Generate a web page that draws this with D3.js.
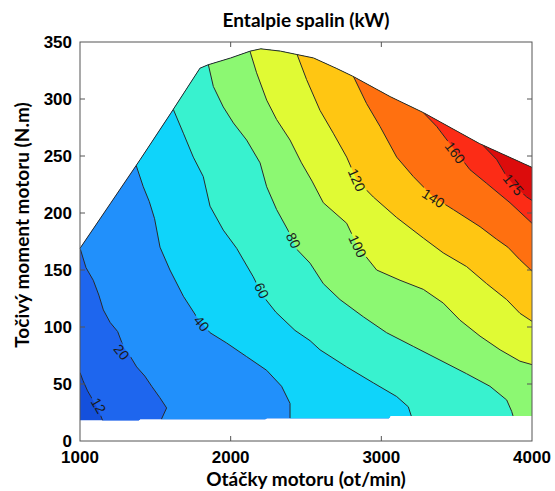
<!DOCTYPE html>
<html>
<head>
<meta charset="utf-8">
<script src="https://cdn.jsdelivr.net/npm/d3@7"></script>
<style>
  body { margin: 0; background: #fff; }
</style>
</head>
<body>
<script>
// contour levels (kW) and fill colours of the bands between them
var levels = [12, 20, 40, 60, 80, 100, 120, 140, 160, 175];
var bandColors = ['#1450dc', '#1e66ee', '#2190fb', '#0fd4fa', '#38f2cf', '#8cf872',
                  '#e0fa34', '#ffc612', '#ff7010', '#fc2c16', '#dc0c0c'];

// full load curve (rpm, N.m) and bottom edge of the measured map
var fullLoad = [[1000,169],[1200,208],[1400,247],[1600,287],[1796,327],[1850,330],[2000,336],
                [2130,342],[2200,344],[2330,342],[2440,339],[2550,336],[2700,327],[2810,320],
                [3060,302],[3280,288],[3650,261],[4000,240]];
var bottomEdge = [[4000,22],[3060,22],[3050,20],[2240,20],[2230,19],[1400,19],[1390,18],[1000,18]];

// contour lines (rpm, N.m)
var line12 = [[1000,60],[1020,53],[1050,44],[1085,36],[1120,28],[1150,18]];
var line20 = [[1003,168],[1040,152],[1088,141],[1125,128],[1155,115],[1200,104],[1250,96],[1290,82],
              [1321,77],[1376,65],[1430,57],[1476,48],[1530,38],[1575,29],[1540,19]];
var line40 = [[1372,242],[1420,223],[1460,210],[1495,195],[1531,170],[1597,150],[1686,127],[1774,109],
              [1863,95],[1973,86],[2106,74],[2239,62],[2338,48],[2394,33],[2394,20]];
var line60 = [[1619,291],[1686,270],[1752,249],[1818,232],[1863,206],[1951,185],[2040,169],[2150,144],
              [2210,128],[2300,113],[2427,97],[2527,88],[2593,80],[2770,65],[2947,51],[3102,39],
              [3179,30],[3201,21]];
var line80 = [[1852,330],[1885,311],[1951,293],[2018,279],[2106,264],[2195,244],[2239,223],[2305,203],
              [2380,185],[2440,168],[2527,156],[2615,138],[2726,124],[2880,109],[3035,95],[3212,83],
              [3389,71],[3566,59],[3721,48],[3832,36],[3865,26],[3874,22]];
var line100 = [[2128,342],[2172,323],[2239,299],[2305,282],[2394,264],[2470,244],[2540,228],[2615,209],
               [2770,191],[2842,171],[2969,150],[3124,141],[3279,133],[3411,121],[3522,106],[3655,92],
               [3788,80],[3920,70],[4000,67]];
var line120 = [[2438,340],[2504,317],[2593,290],[2681,270],[2770,249],[2836,229],[2947,214],[3102,196],
               [3279,178],[3411,165],[3566,153],[3699,138],[3832,124],[3920,112],[4000,105]];
var line140 = [[2814,320],[2902,296],[2991,276],[3102,249],[3212,232],[3345,214],[3478,203],[3655,188],
               [3765,177],[3840,170],[3920,159],[4000,149]];
var line160 = [[3279,288],[3367,276],[3430,265],[3489,255],[3588,238],[3699,226],[3854,209],[4000,191]];
var line175 = [[3677,259],[3765,247],[3832,232],[3876,225],[3965,214],[4000,211]];
var contourLines = [line12, line20, line40, line60, line80, line100, line120, line140, line160, line175];

// where the level labels sit (rpm, N.m)
var labelPos = [[1122,31],[1276,78],[1807,103],[2206,132],[2416,176],[2842,171],[2836,229],
                [3345,213],[3489,253],[3876,225]];

var xTicks = [1000, 2000, 3000, 4000];
var yTicks = [0, 50, 100, 150, 200, 250, 300, 350];

var width = 555, height = 491,
    plotL = 80, plotR = 532, plotT = 42, plotB = 441;

var x = d3.scaleLinear().domain([1000, 4000]).range([plotL, plotR]);
var y = d3.scaleLinear().domain([0, 350]).range([plotB, plotT]);
var line = d3.line().x(function(d){ return x(d[0]); }).y(function(d){ return y(d[1]); });

var svg = d3.select('body').append('svg')
    .attr('width', width)
    .attr('height', height);

var envelope = fullLoad.concat(bottomEdge);
var defs = svg.append('defs');
defs.append('clipPath').attr('id', 'env')
  .append('path').attr('d', line(envelope) + 'Z');

// filled bands: lowest colour everywhere, then each level on top of it
var bands = svg.append('g').attr('clip-path', 'url(#env)');
bands.append('path').attr('d', line(envelope) + 'Z').attr('fill', bandColors[0]);

contourLines.forEach(function(pts, i) {
  var s = pts[0], e = pts[pts.length - 1];
  var poly = [[s[0], 1000]].concat(pts);
  if (e[0] >= 3990) poly.push([9999, e[1]]);
  else poly.push([e[0], -100], [9999, -100]);
  poly.push([9999, 1000]);
  bands.append('path')
    .attr('d', line(poly) + 'Z')
    .attr('fill', bandColors[i + 1]);
});

// label angle follows the nearest segment of its line
function labelAngle(pts, p) {
  var best = Infinity, ang = 0;
  for (var i = 0; i < pts.length - 1; i++) {
    var ax = x(pts[i][0]), ay = y(pts[i][1]), bx = x(pts[i+1][0]), by = y(pts[i+1][1]);
    var dx = bx - ax, dy = by - ay;
    var t = ((p[0] - ax) * dx + (p[1] - ay) * dy) / (dx * dx + dy * dy);
    t = Math.max(0, Math.min(1, t));
    var d = Math.hypot(p[0] - (ax + t * dx), p[1] - (ay + t * dy));
    if (d < best) { best = d; ang = Math.atan2(dy, dx) * 180 / Math.PI; }
  }
  if (ang > 90) ang -= 180;
  if (ang < -90) ang += 180;
  return ang;
}

var labels = levels.map(function(lv, i) {
  var p = [x(labelPos[i][0]), y(labelPos[i][1])];
  return { text: String(lv), px: p[0], py: p[1], ang: labelAngle(contourLines[i], p) };
});

// gaps in the lines under the labels
var mask = defs.append('mask').attr('id', 'lblmask')
    .attr('maskUnits', 'userSpaceOnUse')
    .attr('x', 0).attr('y', 0).attr('width', width).attr('height', height);
mask.append('rect').attr('width', width).attr('height', height).attr('fill', 'white');
labels.forEach(function(l) {
  var w = l.text.length * 7.8 + 4;
  mask.append('rect')
    .attr('x', -w / 2).attr('y', -6).attr('width', w).attr('height', 12)
    .attr('fill', 'black')
    .attr('transform', 'translate(' + l.px + ',' + l.py + ') rotate(' + l.ang + ')');
});

var lines = svg.append('g').attr('clip-path', 'url(#env)')
  .append('g').attr('mask', 'url(#lblmask)');
lines.selectAll('path')
  .data(contourLines)
  .enter()
  .append('path')
    .attr('d', line)
    .attr('fill', 'none')
    .attr('stroke', '#2a2a2a')
    .attr('stroke-width', 1);

svg.append('path')
    .attr('d', line(fullLoad))
    .attr('fill', 'none')
    .attr('stroke', '#2a2a2a')
    .attr('stroke-width', 1);

svg.append('g').selectAll('text')
  .data(labels)
  .enter()
  .append('text')
    .attr('transform', function(l){ return 'translate(' + l.px + ',' + l.py + ') rotate(' + l.ang + ')'; })
    .attr('text-anchor', 'middle')
    .attr('dy', '0.35em')
    .style('font-family', '"Liberation Sans", Arial, sans-serif')
    .style('font-size', '14px')
    .attr('fill', '#1a1a1a')
    .text(function(l){ return l.text; });

// axes box with inward ticks
svg.append('rect')
    .attr('x', plotL).attr('y', plotT)
    .attr('width', plotR - plotL).attr('height', plotB - plotT)
    .attr('fill', 'none').attr('stroke', '#555').attr('stroke-width', 1);

var tk = svg.append('g').attr('stroke', '#555').attr('stroke-width', 1);
xTicks.slice(1, -1).forEach(function(v) {
  tk.append('line').attr('x1', x(v)).attr('x2', x(v)).attr('y1', plotB).attr('y2', plotB - 5);
  tk.append('line').attr('x1', x(v)).attr('x2', x(v)).attr('y1', plotT).attr('y2', plotT + 5);
});
yTicks.slice(1, -1).forEach(function(v) {
  tk.append('line').attr('x1', plotL).attr('x2', plotL + 5).attr('y1', y(v)).attr('y2', y(v));
  tk.append('line').attr('x1', plotR).attr('x2', plotR - 5).attr('y1', y(v)).attr('y2', y(v));
});

var tickFont = '"Liberation Sans", Arial, sans-serif';
svg.append('g').selectAll('text')
  .data(xTicks)
  .enter()
  .append('text')
    .attr('x', function(d){ return x(d); })
    .attr('y', 463)
    .attr('text-anchor', 'middle')
    .style('font-family', tickFont).style('font-size', '17px').style('font-weight', 'bold')
    .text(function(d){ return d; });

svg.append('g').selectAll('text')
  .data(yTicks)
  .enter()
  .append('text')
    .attr('x', 72)
    .attr('y', function(d){ return y(d); })
    .attr('dy', '0.35em')
    .attr('text-anchor', 'end')
    .style('font-family', tickFont).style('font-size', '17px').style('font-weight', 'bold')
    .text(function(d){ return d; });

// titles
var labelFont = 'Lato, "Open Sans", sans-serif';
svg.append('text')
    .attr('x', (plotL + plotR) / 2).attr('y', 27)
    .attr('text-anchor', 'middle')
    .style('font-family', labelFont).style('font-size', '19px').style('font-weight', 'bold')
    .text('Entalpie spalin (kW)');

svg.append('text')
    .attr('x', (plotL + plotR) / 2).attr('y', 486)
    .attr('text-anchor', 'middle')
    .style('font-family', labelFont).style('font-size', '19px').style('font-weight', 'bold')
    .text('Otáčky motoru (ot/min)');

svg.append('text')
    .attr('transform', 'translate(29,' + 225 + ') rotate(-90)')
    .attr('text-anchor', 'middle')
    .style('font-family', labelFont).style('font-size', '19px').style('font-weight', 'bold')
    .text('Točivý moment motoru (N.m)');
</script>
</body>
</html>
